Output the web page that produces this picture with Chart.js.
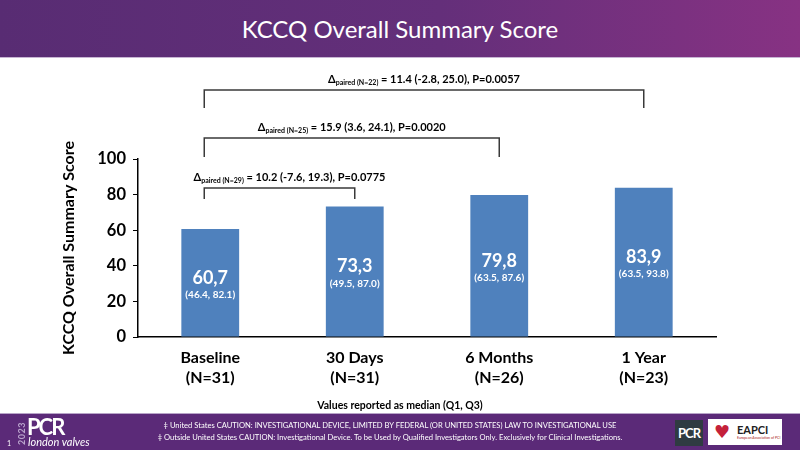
<!DOCTYPE html>
<html>
<head>
<meta charset="utf-8">
<script src="https://cdn.jsdelivr.net/npm/chart.js@4"></script>
<style>
  html, body { margin: 0; padding: 0; background: #fff; }
  body { width: 800px; height: 450px; position: relative; overflow: hidden; font-family: Lato, "Open Sans", sans-serif; }
  #wrap { position: absolute; left: 0; top: 0; width: 800px; height: 450px; }
  .banner { position: absolute; left: 0; top: 0; width: 800px; height: 57px;
    background: linear-gradient(90deg, #582c73 0%, #642f7a 55%, #873283 100%);
    border-bottom: 1px solid #c7b5d3; color: #fff; text-align: center;
    font-size: 24px; line-height: 58px; }
  .footer { position: absolute; left: 0; top: 413px; width: 800px; height: 37px;
    background: #5b2a78; border-top: 1px solid #b8a4c8; color: #fff; }
  .note { position: absolute; left: 0; top: 399px; width: 800px; text-align: center;
    font-size: 10.5px; font-weight: bold; color: #000; }
  .caution { position: absolute; left: 0; width: 780px; text-align: center; font-size: 7.6px; white-space: nowrap; }
  .pg { position: absolute; left: 7px; top: 25px; font-size: 7px; }
  .yr { position: absolute; left: 10px; top: 14px; transform: rotate(-90deg); font-size: 9px; font-weight: bold;
    color: #b9a3cc; letter-spacing: 0.5px; }
  .pcr { position: absolute; left: 27px; top: 3px; font-size: 22px; line-height: 20px; font-weight: bold; letter-spacing: -2px; }
  .lv { position: absolute; left: 28px; top: 22px; font-size: 11px; line-height: 12px; font-style: italic; }
  .pcrbox { position: absolute; left: 675px; top: 6px; width: 28px; height: 26px; background: #2f3b42;
    font-size: 13px; font-weight: bold; text-align: center; line-height: 26px; letter-spacing: -1px; }
  .eapci { position: absolute; left: 708px; top: 5px; width: 74px; height: 26px; background: #fff; color: #222; }
  .eapci .h { position: absolute; left: 6px; top: 2px; color: #c4213a; font-size: 18px; font-family: "DejaVu Sans"; }
  .eapci .t { position: absolute; left: 29px; top: 4px; font-size: 11px; font-weight: bold; }
  .eapci .s { position: absolute; left: 29px; top: 17px; font-size: 3.5px; color: #a22; }
</style>
</head>
<body>
<div id="wrap"><canvas id="chart" width="800" height="450"></canvas></div>
<div class="banner">KCCQ Overall Summary Score</div>
<div class="note">Values reported as median (Q1, Q3)</div>
<div class="footer">
  <div class="pg">1</div>
  <div class="yr">2023</div>
  <div class="pcr">PCR</div>
  <div class="lv">london valves</div>
  <div class="caution" style="top:6px">‡ United States CAUTION: INVESTIGATIONAL DEVICE, LIMITED BY FEDERAL (OR UNITED STATES) LAW TO INVESTIGATIONAL USE</div>
  <div class="caution" style="top:18px">‡ Outside United States CAUTION: Investigational Device. To be Used by Qualified Investigators Only. Exclusively for Clinical Investigations.</div>
  <div class="pcrbox">PCR</div>
  <div class="eapci"><span class="h">♥</span><span class="t">EAPCI</span><span class="s">European Association of PCI</span></div>
</div>
<script>
const categories = [['Baseline', '(N=31)'], ['30 Days', '(N=31)'], ['6 Months', '(N=26)'], ['1 Year', '(N=23)']];
const medians = [60.7, 73.3, 79.8, 83.9];
const q1 = [46.4, 49.5, 63.5, 63.5];
const q3 = [82.1, 87.0, 87.6, 93.8];
const yTicks = [0, 20, 40, 60, 80, 100];

// paired comparisons: baseline vs. each later visit
const pairTo = [1, 2, 3];
const pairN = [29, 25, 22];
const pairText = ['= 10.2 (-7.6, 19.3), P=0.0775', '= 15.9 (3.6, 24.1), P=0.0020', '= 11.4 (-2.8, 25.0), P=0.0057'];

const FONT = 'Lato, "Open Sans", sans-serif';

const barLabels = {
  id: 'barLabels',
  afterDatasetsDraw(chart) {
    const ctx = chart.ctx;
    const meta = chart.getDatasetMeta(0);
    ctx.save();
    ctx.fillStyle = '#fff';
    ctx.textAlign = 'center';
    ctx.textBaseline = 'middle';
    meta.data.forEach((bar, i) => {
      const mid = (bar.y + bar.base) / 2;
      ctx.font = 'bold 18px ' + FONT;
      ctx.fillText(medians[i].toFixed(1).replace('.', ','), bar.x, mid - 5);
      ctx.font = 'bold 10px ' + FONT;
      ctx.fillText('(' + q1[i].toFixed(1) + ', ' + q3[i].toFixed(1) + ')', bar.x, mid + 12);
    });
    ctx.restore();
  }
};

// bracket heights in y-axis units (levels above the plot)
const bracketLevels = [{ top: 83.7, drop: 6.2 }, { top: 111.8, drop: 10.7 }, { top: 138.8, drop: 10.1 }];

const brackets = {
  id: 'brackets',
  afterDatasetsDraw(chart) {
    const ctx = chart.ctx;
    const x = chart.scales.x;
    const y = chart.scales.y;
    ctx.save();
    ctx.strokeStyle = '#3a3a3a';
    ctx.lineWidth = 1.5;
    pairTo.forEach((to, k) => {
      const lv = bracketLevels[k];
      const x0 = x.getPixelForValue(0) - 6;
      const x1 = x.getPixelForValue(to);
      const yt = y.getPixelForValue(lv.top);
      const yb = y.getPixelForValue(lv.top - lv.drop);
      ctx.beginPath();
      ctx.moveTo(x0, yb);
      ctx.lineTo(x0, yt);
      ctx.lineTo(x1, yt);
      ctx.lineTo(x1, yb);
      ctx.stroke();

      // label: Δ with subscript
      const big = 'bold 11px ' + FONT;
      const small = 'bold 7px ' + FONT;
      const sub = 'paired (N=' + pairN[k] + ')';
      const rest = ' ' + pairText[k];
      ctx.font = big;
      const wD = ctx.measureText('Δ').width;
      const wR = ctx.measureText(rest).width;
      ctx.font = small;
      const wS = ctx.measureText(sub).width;
      const total = wD + wS + wR;
      let cx = (x0 + x1) / 2 + (k === 0 ? 10 : 0) - total / 2;
      const ty = yt - 11;
      ctx.fillStyle = '#000';
      ctx.textAlign = 'left';
      ctx.textBaseline = 'alphabetic';
      ctx.font = big;
      ctx.fillText('Δ', cx, ty + 4);
      cx += wD;
      ctx.font = small;
      ctx.fillText(sub, cx, ty + 6);
      cx += wS;
      ctx.font = big;
      ctx.fillText(rest, cx, ty + 4);
    });
    ctx.restore();
  }
};

new Chart(document.getElementById('chart'), {
  type: 'bar',
  data: {
    labels: categories,
    datasets: [{
      data: medians,
      backgroundColor: '#4f81bd',
      barPercentage: 0.4,
      categoryPercentage: 1.0,
    }],
  },
  options: {
    responsive: false,
    animation: false,
    layout: { padding: { left: 59, right: 84, top: 159, bottom: 0 } },
    plugins: { legend: { display: false }, tooltip: { enabled: false } },
    scales: {
      x: {
        grid: { display: false, drawTicks: false },
        border: { display: true, color: '#000', width: 1.5 },
        ticks: { color: '#000', padding: 11, font: { family: FONT, size: 16, weight: 'bold', lineHeight: 1.25 } },
        afterFit: (s) => { s.height = 113; },
      },
      y: {
        min: 0,
        max: 100,
        afterBuildTicks: (s) => { s.ticks = yTicks.map((v) => ({ value: v })); },
        grid: { drawOnChartArea: false, drawTicks: true, tickLength: 5, color: '#000', lineWidth: 1 },
        border: { display: true, color: '#000', width: 1.5 },
        ticks: { color: '#000', padding: 7, font: { family: FONT, size: 16.5, weight: 'bold' } },
        title: { display: true, text: 'KCCQ Overall Summary Score', color: '#000', padding: 0,
          font: { family: FONT, size: 16, weight: 'bold' } },
        afterFit: (s) => { s.width = 79; },
      },
    },
  },
  plugins: [barLabels, brackets],
});
</script>
</body>
</html>
